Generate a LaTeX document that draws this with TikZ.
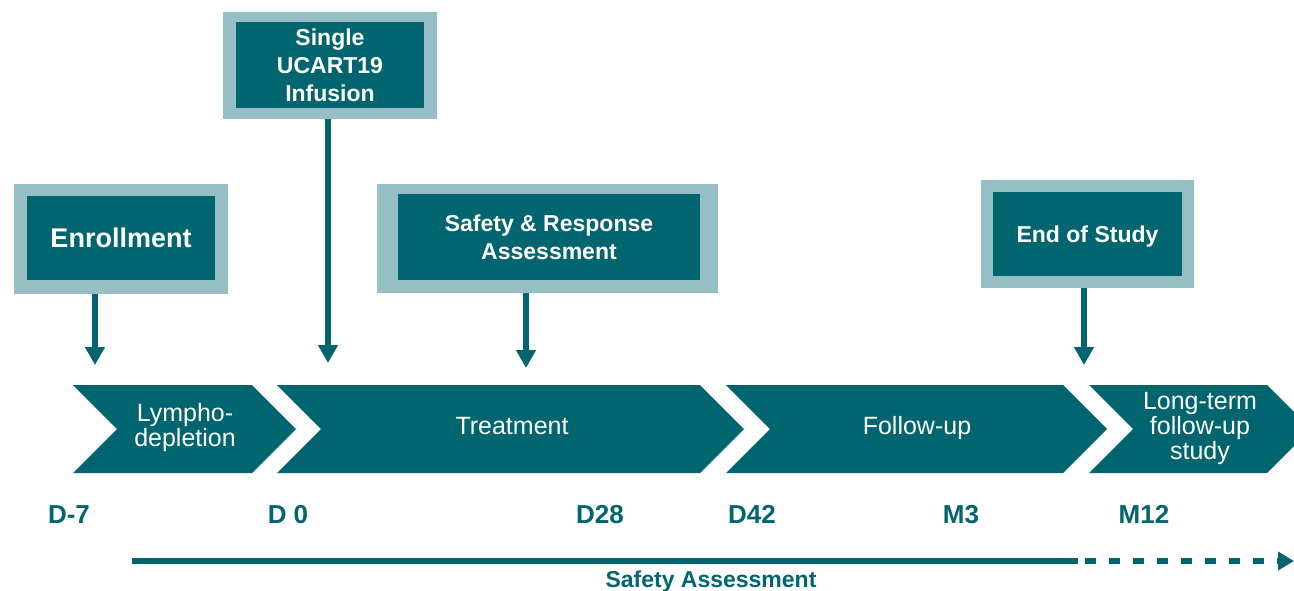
\documentclass[tikz,border=0pt]{standalone}
\usepackage{fontspec}
\setmainfont{Liberation Sans}
\usetikzlibrary{arrows.meta,positioning}

\definecolor{darkteal}{RGB}{0,101,110}
\definecolor{paleteal}{RGB}{150,190,197}

\begin{document}
\begin{tikzpicture}[x=1pt,y=-1pt,
    outerbox/.style={fill=paleteal, inner sep=0pt, outer sep=0pt},
    innerbox/.style={fill=darkteal, text=white, align=center, inner sep=0pt,
      font=\bfseries\fontsize{23}{28}\selectfont},
    phase/.style={text=white, align=center, font=\fontsize{25}{25}\selectfont},
    daylabel/.style={text=darkteal, anchor=base, font=\bfseries\fontsize{26}{26}\selectfont},
    pointer/.style={darkteal, line width=6pt, -{Triangle[length=18pt,width=19pt]}},
    timeline/.style={darkteal, line width=6pt}]
  \useasboundingbox (0,0) rectangle (1294,590);

  % phases
  \foreach \a/\b in {73/252, 277/700, 726/1063, 1089/1267}
    \fill[darkteal] (\a,385) -- (\b,385) -- (\b+44,429) -- (\b,473) -- (\a,473) -- (\a+44,429) -- cycle;
  \node[phase] (lympho) at (185,428) {Lympho-\\depletion};
  \node[phase] (treat) at (512,426) {Treatment};
  \node[phase] (follow) at (917,428) {Follow-up};
  \node[phase] (longterm) at (1200,428) {Long-term\\follow-up\\study};

  % event boxes
  \node[outerbox, minimum width=214pt, minimum height=110pt] (enrollout) at (121,239) {};
  \node[innerbox, minimum width=188pt, minimum height=84pt, font=\bfseries\fontsize{27}{30}\selectfont] (enroll) at (121,238) {Enrollment};
  \node[outerbox, minimum width=214pt, minimum height=107pt] (infuseout) at (330,65.5) {};
  \node[innerbox, minimum width=188pt, minimum height=86pt] (infuse) at (330,65) {Single\\UCART19\\Infusion};
  \node[outerbox, minimum width=341pt, minimum height=109pt] (assessout) at (547.5,238.5) {};
  \node[innerbox, minimum width=302pt, minimum height=86pt] (assess) at (549,237) {Safety \& Response\\Assessment};
  \node[outerbox, minimum width=213pt, minimum height=108pt] (endout) at (1087.5,234) {};
  \node[innerbox, minimum width=189pt, minimum height=84pt, text depth=0pt] (endstudy) at (1087.5,234) {End of Study};

  % arrows down to the timeline
  \coordinate (enrolltip) at (95,365);
  \coordinate (infusetip) at (328,363);
  \coordinate (assesstip) at (526,368);
  \coordinate (endtip) at (1084,365);
  \draw[pointer] (enrollout.south -| enrolltip) -- (enrolltip);
  \draw[pointer] (infuseout.south -| infusetip) -- (infusetip);
  \draw[pointer] (assessout.south -| assesstip) -- (assesstip);
  \draw[pointer] (endout.south -| endtip) -- (endtip);

  % time points
  \node[daylabel] (dm7) at (69,523) {D-7};
  \node[daylabel] (d0) at (288,523) {D 0};
  \node[daylabel] (d28) at (600,523) {D28};
  \node[daylabel] (d42) at (752,523) {D42};
  \node[daylabel] (m3) at (961,523) {M3};
  \node[daylabel] (m12) at (1144,523) {M12};

  % safety assessment line
  \coordinate (safestart) at (132,561);
  \coordinate (safeend) at (1078,561);
  \coordinate (dashstart) at (1085,561);
  \coordinate (dashend) at (1294,561);
  \draw[timeline] (safestart) -- (safeend);
  \draw[timeline, dash pattern=on 11pt off 13pt, -{Triangle[length=16pt,width=18pt]}] (dashstart) -- (dashend);
  \node[text=darkteal, anchor=base, font=\bfseries\fontsize{23}{23}\selectfont] (safety) at (711,587) {Safety Assessment};
\end{tikzpicture}
\end{document}
